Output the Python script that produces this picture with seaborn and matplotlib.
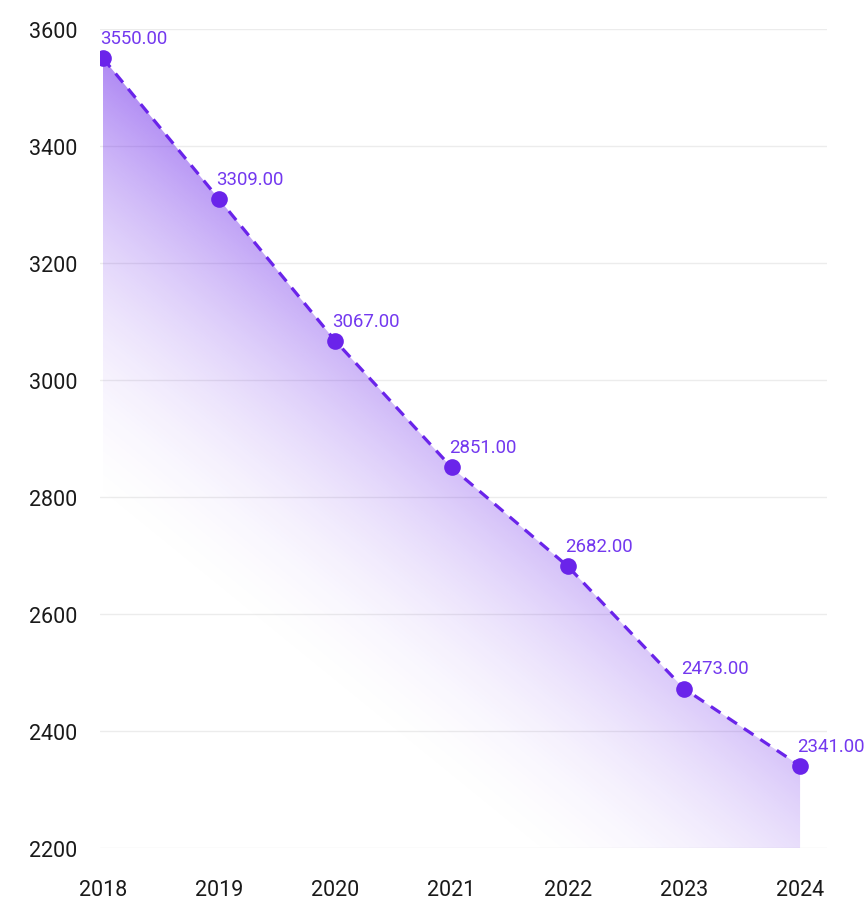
import numpy as np
import pandas as pd
import matplotlib
matplotlib.use("Agg")
import matplotlib.pyplot as plt
from matplotlib.patches import Polygon
import seaborn as sns

years = [2018, 2019, 2020, 2021, 2022, 2023, 2024]
values = [3550.00, 3309.00, 3067.00, 2851.00, 2682.00, 2473.00, 2341.00]
y_ticks = [2200, 2400, 2600, 2800, 3000, 3200, 3400, 3600]

purple = "#6a24ea"
label_color = "#7338ef"

sns.set_theme(style="white")
plt.rcParams["font.family"] = ["Roboto", "DejaVu Sans"]

df = pd.DataFrame({"year": years, "value": values})

fig = plt.figure(figsize=(8.67, 9.04), dpi=100)
ax = fig.add_axes([0.1153, 0.0605, 0.9539 - 0.1153, 0.9668 - 0.0605])

xmin, xmax = 2017.974, 2024.232
ymin, ymax = 2200, 3600
ax.set_xlim(xmin, xmax)
ax.set_ylim(ymin, ymax)

# gradient fill under the line (white bottom-left -> purple towards the line)
verts = [(years[0], ymin)] + list(zip(years, values)) + [(years[-1], ymin)]
poly = Polygon(verts, closed=True, facecolor="none", edgecolor="none")
ax.add_patch(poly)
xs = np.linspace(0, 1, 400)
ys = np.linspace(0, 1, 400)
gx, gy = np.meshgrid(xs, ys)
w = 0.9 * gx + 1.3 * gy
alpha = np.clip(0.95 * np.clip(w - 0.5, 0, None) ** 2, 0, 0.6)
rgba = np.zeros((400, 400, 4))
rgba[..., 0] = 0x6a / 255
rgba[..., 1] = 0x24 / 255
rgba[..., 2] = 0xea / 255
rgba[..., 3] = alpha
img = ax.imshow(rgba, extent=[years[0], years[-1], ymin, ymax], origin="lower",
                aspect="auto", zorder=1, interpolation="bilinear")
img.set_clip_path(poly)

sns.lineplot(data=df, x="year", y="value", ax=ax, color=purple, linewidth=2.3,
             linestyle=(0, (3.6, 2.6)), marker="o", markersize=12,
             markeredgewidth=0, zorder=3)

for x, v in zip(years, values):
    ax.annotate(f"{v:.2f}", (x, v), xytext=(-2, 8), textcoords="offset points",
                ha="left", va="bottom", fontsize=13.4, color=label_color, zorder=4)

ax.set_xticks(years)
ax.set_xticklabels([str(y) for y in years])
ax.set_yticks(y_ticks)
ax.set_yticklabels([str(t) for t in y_ticks])
ax.tick_params(axis="y", length=0, pad=16, labelsize=15.5, labelcolor="#1a1a1a")
ax.tick_params(axis="x", length=0, pad=22, labelsize=15.5, labelcolor="#1a1a1a")
ax.set_xlabel("")
ax.set_ylabel("")
ax.grid(axis="y", color="#ececec", linewidth=1)
ax.grid(axis="x", visible=False)
ax.set_axisbelow(True)
for s in ax.spines.values():
    s.set_visible(False)

fig.savefig("out.png", dpi=100)
